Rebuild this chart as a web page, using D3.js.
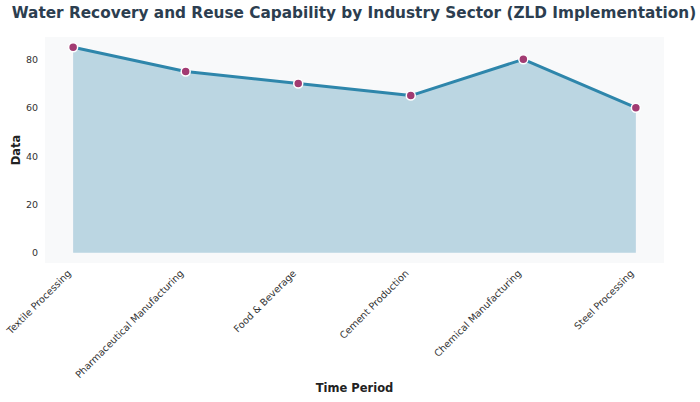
<!DOCTYPE html>
<html>
<head>
<meta charset="utf-8">
<script src="https://d3js.org/d3.v7.min.js"></script>
<style>
  body { margin: 0; background: #fff; }
  text { font-family: "DejaVu Sans", sans-serif; }
</style>
</head>
<body>
<div id="chart"></div>
<script>
// values
var sectors = ["Textile Processing", "Pharmaceutical Manufacturing", "Food & Beverage",
  "Cement Production", "Chemical Manufacturing", "Steel Processing"];
var recovery = [85, 75, 70, 65, 80, 60];
var yTicks = [0, 20, 40, 60, 80];

var svgWidth = 700;
var svgHeight = 402;

var margin = { top: 37, right: 36, bottom: 139, left: 45 };
var width = svgWidth - margin.left - margin.right;
var height = svgHeight - margin.top - margin.bottom;

var svg = d3.select("#chart")
  .append("svg")
  .attr("width", svgWidth)
  .attr("height", svgHeight);

var chartGroup = svg.append("g")
  .attr("transform", `translate(${margin.left}, ${margin.top})`);

// matplotlib style 5% margins
var xScale = d3.scaleLinear()
  .domain([-0.25, sectors.length - 1 + 0.25])
  .range([0, width]);

var yScale = d3.scaleLinear()
  .domain([-4.25, 89.25])
  .range([height, 0]);

chartGroup.append("rect")
  .attr("width", width)
  .attr("height", height)
  .attr("fill", "#f8f9fa");

// area under the line
var area = d3.area()
  .x((d, i) => xScale(i))
  .y0(yScale(0))
  .y1(d => yScale(d));

chartGroup.append("path")
  .datum(recovery)
  .attr("d", area)
  .attr("fill", "#2E86AB")
  .attr("fill-opacity", 0.3);

var line = d3.line()
  .x((d, i) => xScale(i))
  .y(d => yScale(d));

chartGroup.append("path")
  .datum(recovery)
  .attr("d", line)
  .attr("fill", "none")
  .attr("stroke", "#2E86AB")
  .attr("stroke-width", 3)
  .attr("stroke-linejoin", "round");

chartGroup.selectAll("circle")
  .data(recovery)
  .enter()
  .append("circle")
  .attr("cx", (d, i) => xScale(i))
  .attr("cy", d => yScale(d))
  .attr("r", 4.5)
  .attr("fill", "#A23B72")
  .attr("stroke", "#fff")
  .attr("stroke-width", 1.5);

// y axis, no line or ticks
var leftAxis = d3.axisLeft(yScale).tickValues(yTicks).tickSize(0).tickPadding(7);
var yAxis = chartGroup.append("g").call(leftAxis);
yAxis.select(".domain").remove();
yAxis.selectAll("text")
  .attr("font-size", "9.5px")
  .attr("fill", "#333")
  .style("font-family", "DejaVu Sans");

// x axis with rotated labels
var bottomAxis = d3.axisBottom(xScale)
  .tickValues(d3.range(sectors.length))
  .tickFormat(i => sectors[i])
  .tickSize(0);
var xAxis = chartGroup.append("g")
  .attr("transform", `translate(0, ${height})`)
  .call(bottomAxis);
xAxis.select(".domain").remove();
xAxis.selectAll("text")
  .attr("font-size", "9.7px")
  .attr("fill", "#333")
  .style("font-family", "DejaVu Sans")
  .attr("text-anchor", "end")
  .attr("x", 0)
  .attr("y", 0)
  .attr("dy", 0)
  .attr("transform", "translate(-2, 11) rotate(-45)");

// axis labels
svg.append("text")
  .attr("transform", `translate(20, ${margin.top + height / 2}) rotate(-90)`)
  .attr("text-anchor", "middle")
  .attr("font-size", "11.5px")
  .attr("font-weight", "bold")
  .attr("fill", "#222")
  .text("Data");

svg.append("text")
  .attr("x", margin.left + width / 2)
  .attr("y", 392)
  .attr("text-anchor", "middle")
  .attr("font-size", "11.5px")
  .attr("font-weight", "bold")
  .attr("fill", "#222")
  .text("Time Period");

// title
svg.append("text")
  .attr("x", 354)
  .attr("y", 18)
  .attr("text-anchor", "middle")
  .attr("font-size", "15.3px")
  .attr("font-weight", "bold")
  .attr("fill", "#2c3e50")
  .text("Water Recovery and Reuse Capability by Industry Sector (ZLD Implementation)");
</script>
</body>
</html>
